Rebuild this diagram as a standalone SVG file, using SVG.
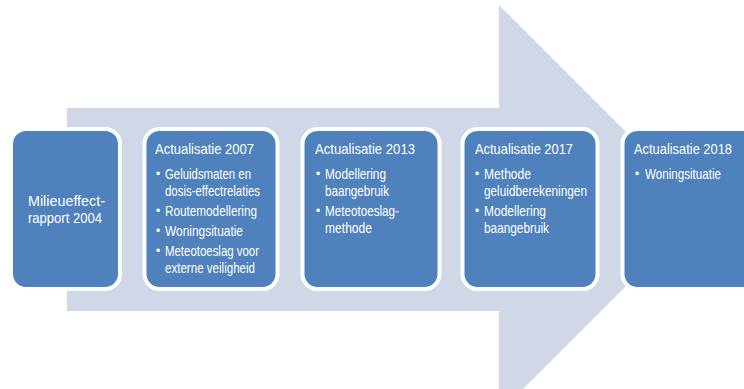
<svg xmlns="http://www.w3.org/2000/svg" width="744" height="389" viewBox="0 0 744 389">
<style>
.box{fill:#4F81BD;stroke:#FFFFFF;stroke-width:4}
text{font-family:"Liberation Sans",Arial,sans-serif;font-size:15px;fill:#FFFFFF}
.b{font-size:12px}
</style>
<rect width="744" height="389" fill="#FFFFFF"/>
<g id="arrow">
<polygon points="67,108 499,108 499,5 703,209 499,413 499,311 67,311" fill="#D0D8E8"/>
</g>
<g id="node-2004">
<rect class="box" x="11" y="129" width="109" height="160" rx="15"/>
<text x="28" y="206" textLength="77" lengthAdjust="spacingAndGlyphs">Milieueffect-</text>
<text x="28" y="223" textLength="74" lengthAdjust="spacingAndGlyphs">rapport 2004</text>
</g>
<g id="node-2007">
<rect class="box" x="144.5" y="129" width="133" height="160" rx="15"/>
<text x="155" y="154" textLength="99" lengthAdjust="spacingAndGlyphs">Actualisatie 2007</text>
<text class="b" x="156" y="178">•</text><text x="165" y="179" textLength="86" lengthAdjust="spacingAndGlyphs">Geluidsmaten en</text>
<text x="165" y="196" textLength="95" lengthAdjust="spacingAndGlyphs">dosis-effectrelaties</text>
<text class="b" x="156" y="215">•</text><text x="165" y="216" textLength="92" lengthAdjust="spacingAndGlyphs">Routemodellering</text>
<text class="b" x="156" y="235">•</text><text x="165" y="236" textLength="78" lengthAdjust="spacingAndGlyphs">Woningsituatie</text>
<text class="b" x="156" y="255">•</text><text x="165" y="256" textLength="94" lengthAdjust="spacingAndGlyphs">Meteotoeslag voor</text>
<text x="165" y="273" textLength="90" lengthAdjust="spacingAndGlyphs">externe veiligheid</text>
</g>
<g id="node-2013">
<rect class="box" x="302.5" y="129" width="137" height="160" rx="15"/>
<text x="315" y="154" textLength="100" lengthAdjust="spacingAndGlyphs">Actualisatie 2013</text>
<text class="b" x="316" y="178">•</text><text x="325" y="179" textLength="61" lengthAdjust="spacingAndGlyphs">Modellering</text>
<text x="325" y="196" textLength="64" lengthAdjust="spacingAndGlyphs">baangebruik</text>
<text class="b" x="316" y="215">•</text><text x="325" y="216" textLength="74" lengthAdjust="spacingAndGlyphs">Meteotoeslag-</text>
<text x="325" y="233" textLength="47" lengthAdjust="spacingAndGlyphs">methode</text>
</g>
<g id="node-2017">
<rect class="box" x="462.5" y="129" width="135" height="160" rx="15"/>
<text x="475" y="154" textLength="98" lengthAdjust="spacingAndGlyphs">Actualisatie 2017</text>
<text class="b" x="475" y="178">•</text><text x="484" y="179" textLength="47" lengthAdjust="spacingAndGlyphs">Methode</text>
<text x="484" y="196" textLength="103" lengthAdjust="spacingAndGlyphs">geluidberekeningen</text>
<text class="b" x="475" y="215">•</text><text x="484" y="216" textLength="62" lengthAdjust="spacingAndGlyphs">Modellering</text>
<text x="484" y="233" textLength="65" lengthAdjust="spacingAndGlyphs">baangebruik</text>
</g>
<g id="node-2018">
<rect class="box" x="622.5" y="129" width="140" height="160" rx="15"/>
<text x="634" y="154" textLength="98" lengthAdjust="spacingAndGlyphs">Actualisatie 2018</text>
<text class="b" x="635" y="178">•</text><text x="645" y="179" textLength="76" lengthAdjust="spacingAndGlyphs">Woningsituatie</text>
</g>
</svg>
